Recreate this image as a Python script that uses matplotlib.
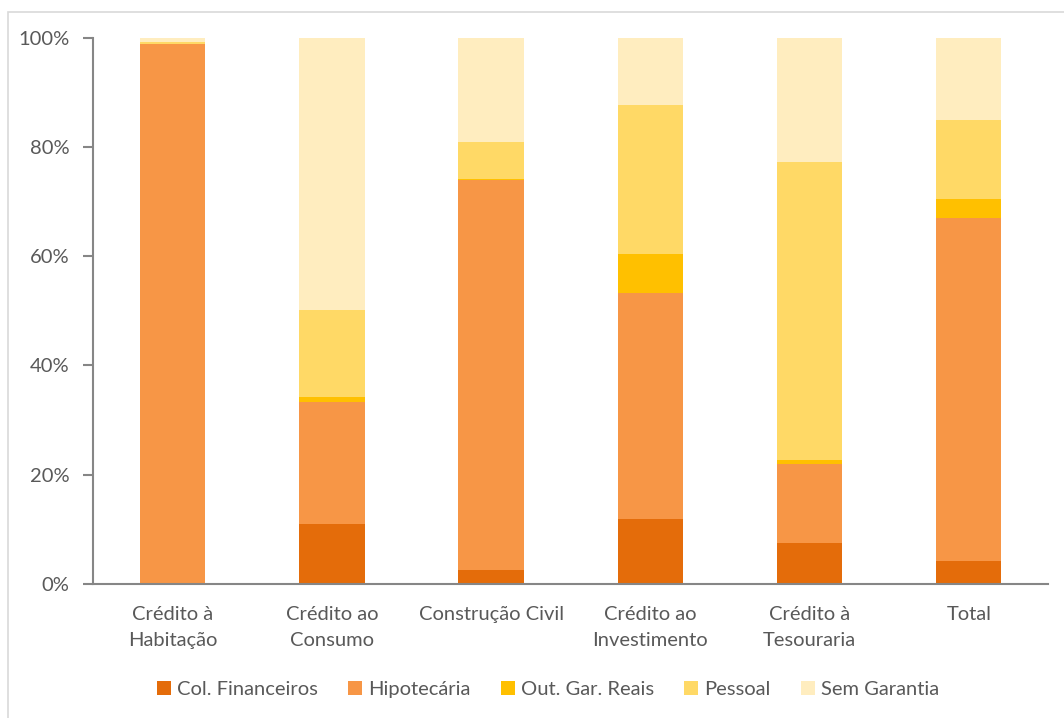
import matplotlib.pyplot as plt
import numpy as np
from matplotlib.patches import Rectangle
from matplotlib.ticker import PercentFormatter

plt.rcParams["font.family"] = ["Lato", "DejaVu Sans"]

categories = [
    "Crédito à\nHabitação",
    "Crédito ao\nConsumo",
    "Construção Civil",
    "Crédito ao\nInvestimento",
    "Crédito à\nTesouraria",
    "Total",
]
series_names = ["Col. Financeiros", "Hipotecária", "Out. Gar. Reais", "Pessoal", "Sem Garantia"]
col_financeiros = [0.0, 11.0, 2.6, 11.9, 7.5, 4.2]
hipotecaria = [98.9, 22.3, 71.4, 41.4, 14.5, 62.8]
out_gar_reais = [0.0, 0.9, 0.1, 7.1, 0.7, 3.5]
pessoal = [0.4, 16.0, 6.9, 27.3, 54.6, 14.5]
sem_garantia = [0.7, 49.8, 19.0, 12.3, 22.7, 15.0]
colors = ["#E46C0A", "#F79646", "#FFC000", "#FFD966", "#FFEDBF"]

values = [col_financeiros, hipotecaria, out_gar_reais, pessoal, sem_garantia]

fig = plt.figure(figsize=(10.64, 7.18), dpi=100)
ax = fig.add_axes([0.0874, 0.187, 0.898, 0.760])

x = np.arange(len(categories))
bottom = np.zeros(len(categories))
for name, vals, color in zip(series_names, values, colors):
    ax.bar(x, vals, width=0.41, bottom=bottom, color=color, label=name)
    bottom += np.array(vals)

ax.set_xlim(-0.5, len(categories) - 0.5)
ax.set_ylim(0, 100)
ax.set_yticks([0, 20, 40, 60, 80, 100])
ax.yaxis.set_major_formatter(PercentFormatter(decimals=0))
ax.set_xticks(x)
ax.set_xticklabels(categories, fontsize=14.5, color="#595959", linespacing=1.65)
ax.tick_params(axis="x", length=0, pad=16)
ax.tick_params(axis="y", labelsize=14.5, labelcolor="#595959", color="#868686",
               length=7, width=1.5, pad=10)

for side in ["top", "right"]:
    ax.spines[side].set_visible(False)
ax.spines["left"].set_color("#868686")
ax.spines["left"].set_linewidth(1.5)
ax.spines["bottom"].set_color("#868686")
ax.spines["bottom"].set_linewidth(1.5)

leg = fig.legend(loc="lower center", bbox_to_anchor=(0.515, 0.003), ncol=5,
                 frameon=False, fontsize=14.5, handlelength=0.7, handleheight=0.7,
                 handletextpad=0.3, columnspacing=1.5)
for t in leg.get_texts():
    t.set_color("#595959")

fig.patches.append(Rectangle((8 / 1064, -0.01), 1.1, 1 - 12 / 718 + 0.01,
                             transform=fig.transFigure, fill=False,
                             edgecolor="#D9D9D9", linewidth=1.2))

fig.savefig("out.png", dpi=100)
